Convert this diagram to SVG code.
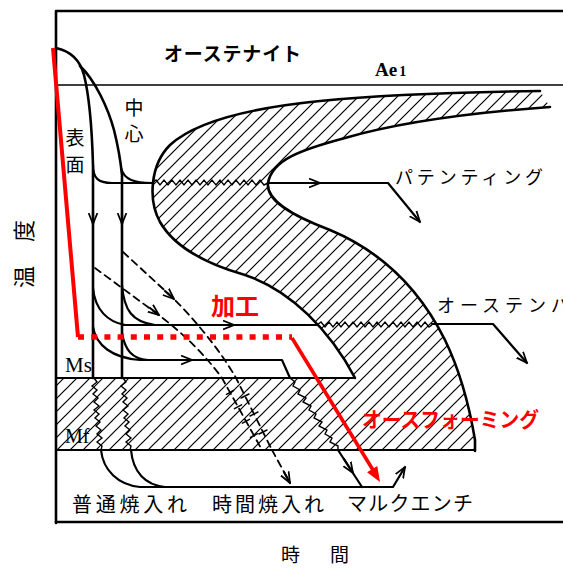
<svg xmlns="http://www.w3.org/2000/svg" width="563" height="569" viewBox="0 0 563 569">
<style>
.ln{fill:none;stroke:#000;stroke-width:2.2;stroke-linecap:round;stroke-linejoin:round}
.th{stroke-width:2.6}
.tn{stroke-width:1.5}
.dash{stroke-dasharray:7 5;stroke-width:1.8}
.zz{fill:none;stroke:#000;stroke-width:1.4;stroke-linejoin:miter}
.jp{font-family:"Noto Sans CJK JP","Noto Sans",sans-serif;fill:#000}
.sr{font-family:"Liberation Serif","DejaVu Serif",serif;fill:#000}
.red{fill:#f00}
.rl{fill:none;stroke:#f00}
</style>
<defs>
<pattern id="hatch" patternUnits="userSpaceOnUse" width="13" height="13">
<path d="M-2,15 L15,-2 M-2,2 L2,-2 M11,15 L15,11" stroke="#000" stroke-width="1.2"/>
</pattern>
<marker id="ah" viewBox="0 0 10 10" refX="10" refY="5" markerWidth="11" markerHeight="11" markerUnits="userSpaceOnUse" orient="auto">
<path d="M0,1 L10,5 L0,9" fill="none" stroke="#000" stroke-width="1.6"/>
</marker>
</defs>
<rect width="563" height="569" fill="#fff"/>

<g id="frame">
<path class="ln th" d="M56,523 L56,11 L563,11"/>
<line class="ln th" x1="56" y1="522" x2="563" y2="522"/>
<line class="ln tn" x1="56" y1="85" x2="563" y2="85"/>
</g>

<g id="transformation-region">
<path fill="url(#hatch)" stroke="none" d="M540,91 C470,92 380,95 320,101 C250,108 195,122 170,145 C150,165 148,200 160,222 C175,248 210,265 245,275 C290,290 330,330 355,378 L56,378 L56,450 L475,450 L475,440 C470,410 462,375 445,340 C425,300 390,255 330,230 C290,215 266,200 268,183 C272,160 300,150 345,138 C400,122 480,112 550,107 Z"/>
<path class="ln th" d="M540,91 C470,92 380,95 320,101 C250,108 195,122 170,145 C150,165 148,200 160,222 C175,248 210,265 245,275 C290,290 330,330 355,378"/>
<path class="ln th" d="M550,107 C480,112 400,122 345,138 C300,150 272,160 268,183 C266,200 290,215 330,230 C390,255 425,300 445,340 C462,375 470,410 475,440 L475,451"/>
<line class="ln" x1="56" y1="378" x2="355" y2="378"/>
<line class="ln" x1="56" y1="450" x2="475" y2="450"/>
</g>

<g id="connectors">
<path class="ln th" d="M56,48 C70,51 80,60 84,75 C89,95 92,130 93,165 L93,378"/>
<path class="ln th" d="M80,66 C95,80 108,108 114,130 C119,150 121,165 122,175 L122,378"/>
<path class="ln" d="M93,165 C93,178 98,183 112,183 L152,183"/>
<path class="ln" d="M121,168 C124,180 135,183 152,183"/>
<path class="ln" d="M93,212 L93,224" marker-end="url(#ah)"/>
<path class="ln" d="M122,212 L122,224" marker-end="url(#ah)"/>
<polyline class="zz" points="152,183 156,180 160,185 164,180 168,185 172,180 176,185 180,180 184,185 188,180 192,185 196,180 200,185 204,180 208,185 212,180 216,185 220,180 224,185 228,180 232,185 236,180 240,185 244,180 248,185 252,180 256,185 260,180 264,185 268,183"/>
<path class="ln" d="M268,183 L388,183 L420,222" marker-end="url(#ah)"/>
<path class="ln" d="M308,183 L320,183" marker-end="url(#ah)"/>
<path class="ln" d="M93,288 C95,310 108,322 125,325"/>
<path class="ln" d="M122,285 C124,310 132,322 155,325"/>
<path class="ln" d="M122,325 L317,325"/>
<path class="ln" d="M222,325 L234,325" marker-end="url(#ah)"/>
<polyline class="zz" points="317,325 321,322 325,327 329,322 333,327 337,322 341,327 345,322 349,327 353,322 357,327 361,322 365,327 369,322 373,327 377,322 381,327 385,322 389,327 393,322 397,327 401,322 405,327 409,322 413,327 417,322 421,327 425,322 429,327 432,325"/>
<path class="ln" d="M432,324 L493,324 L527,363" marker-end="url(#ah)"/>
<path class="ln" d="M93,327 C96,345 112,358 140,360"/>
<path class="ln" d="M122,333 C125,350 132,359 148,360"/>
<path class="ln" d="M140,360 L282,360 L290,378"/>
<path class="ln" d="M180,360 L192,360" marker-end="url(#ah)"/>
<polyline class="zz" points="290,378 295,382 293,386 300,390 298,394 306,398 303,402 311,406 309,410 316,414 314,418 322,422 319,426 327,430 325,434 332,438 330,442 338,446 338,450"/>
<path class="ln" d="M338,450 L362,487"/>
<path class="ln" d="M344,459 L353,473" marker-end="url(#ah)"/>
<polyline class="zz" points="94,378 97,382 92,386 97,390 93,394 98,398 94,402 99,406 94,410 99,414 95,418 100,422 96,426 101,430 97,434 102,438 97,442 102,446 101,450"/>
<polyline class="zz" points="123,378 126,382 121,386 126,390 122,394 127,398 123,402 128,406 123,410 128,414 124,418 129,422 125,426 130,430 126,434 131,438 126,442 131,446 130,450"/>
<path class="ln" d="M101,450 C103,470 118,485 140,487"/>
<path class="ln" d="M131,450 C133,472 145,485 165,487"/>
<path class="ln" d="M140,487 L393,487 L405,467" marker-end="url(#ah)"/>
<path class="ln dash" d="M95,268 L160,316 C185,335 205,355 222,378 L262,450"/>
<path class="ln dash" d="M123,252 L173,298 C195,320 220,350 236,378 L272,450"/>
<path class="ln" d="M150,308 L159,315" marker-end="url(#ah)"/>
<path class="ln" d="M165,291 L174,299" marker-end="url(#ah)"/>
<path class="ln tn" d="M226.5,394.3 L233.5,390.5 M234.5,408.7 L241.5,404.9 M242.5,423.1 L249.5,419.3 M250.5,437.5 L257.5,433.7 M241,398 L249,394 M250,416 L258,412 M259,434 L267,430"/>
<path class="ln dash" d="M272,450 L290,483"/>
<path class="ln" d="M284,472 L290,483" marker-end="url(#ah)"/>
</g>

<g id="red-route">
<path class="rl" stroke-width="4" d="M53,48 L78,337"/>
<path class="rl" stroke-width="5.5" stroke-dasharray="6 7.2" d="M78,337 L292,337"/>
<path class="rl" stroke-width="3.6" d="M292,338 L373,470"/>
<polygon class="red" points="380,482 367.1,472.3 377.3,466.1"/>
</g>

<g id="labels">
<text class="jp" x="164" y="61" font-size="19" font-weight="bold" textLength="137" lengthAdjust="spacing">オーステナイト</text>
<text class="sr" x="375" y="76" font-size="19" font-weight="bold">Ae<tspan font-size="14" dx="2">1</tspan></text>
<text class="jp" x="134" y="115" font-size="19" text-anchor="middle">中</text>
<text class="jp" x="134" y="141" font-size="19" text-anchor="middle">心</text>
<text class="jp" x="75" y="145" font-size="19" text-anchor="middle">表</text>
<text class="jp" x="75" y="172" font-size="19" text-anchor="middle">面</text>
<text class="jp" x="395" y="184" font-size="18" textLength="148" lengthAdjust="spacing">パテンティング</text>
<text class="jp" x="437" y="312" font-size="18" textLength="132" lengthAdjust="spacing">オーステンパ</text>
<text class="jp" x="211" y="315" font-size="24" font-weight="bold" style="fill:#f00">加工</text>
<text class="jp" x="362" y="427" font-size="21" font-weight="bold" textLength="177" lengthAdjust="spacingAndGlyphs" style="fill:#f00">オースフォーミング</text>
<text class="sr" x="65" y="372" font-size="21">Ms</text>
<text class="sr" x="65" y="443" font-size="20">Mf</text>
<text class="jp" x="72" y="512" font-size="20" textLength="115" lengthAdjust="spacing">普通焼入れ</text>
<text class="jp" x="212" y="512" font-size="20" textLength="112" lengthAdjust="spacing">時間焼入れ</text>
<text class="jp" x="347" y="511" font-size="20" textLength="126" lengthAdjust="spacing">マルクエンチ</text>
<text class="jp" x="281" y="562" font-size="19">時</text>
<text class="jp" x="330" y="562" font-size="19">間</text>
<text class="jp" transform="translate(24,277) rotate(-90)" y="8" font-size="22" text-anchor="middle">温</text>
<text class="jp" transform="translate(24,231) rotate(-90)" y="8" font-size="22" text-anchor="middle">度</text>
</g>
</svg>
